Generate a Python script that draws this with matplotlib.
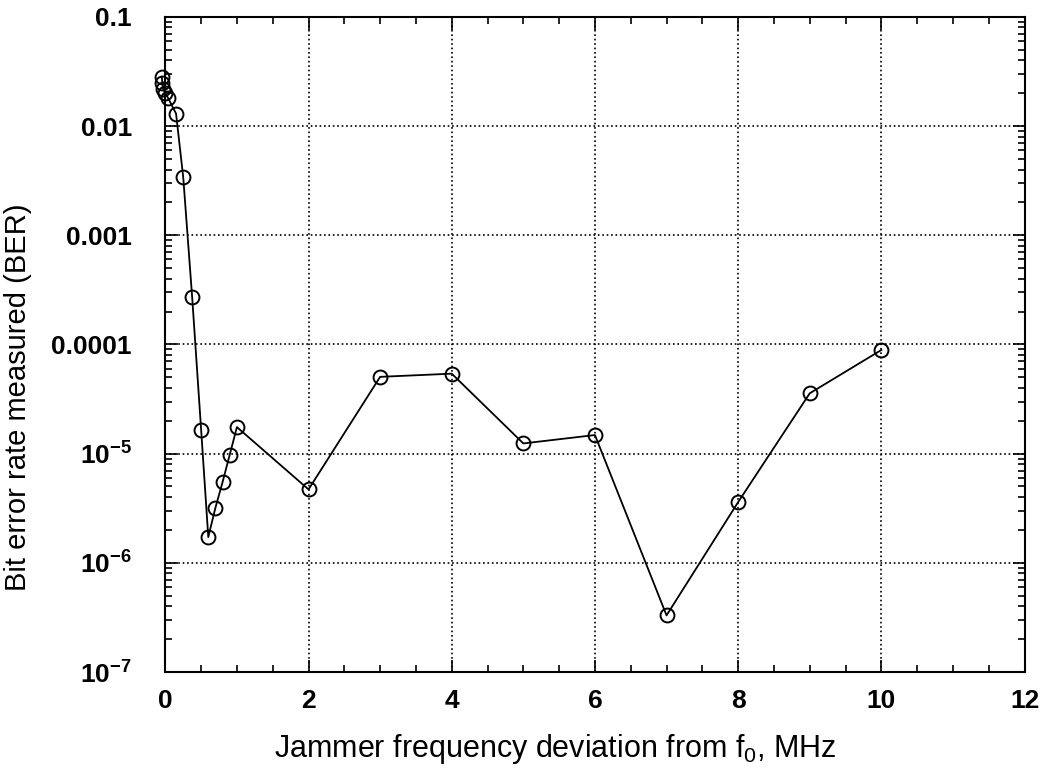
import matplotlib
matplotlib.use('Agg')
import matplotlib.pyplot as plt
import numpy as np
from matplotlib.ticker import FixedLocator, MultipleLocator, LogLocator, NullFormatter

plt.rcParams['font.family'] = ['Liberation Sans', 'DejaVu Sans']
plt.rcParams['mathtext.fontset'] = 'custom'
plt.rcParams['mathtext.rm'] = 'Liberation Sans'
plt.rcParams['mathtext.bf'] = 'Liberation Sans:bold'

# jammer frequency deviation (MHz) and measured BER
freq_dev = [-0.05, -0.04, -0.03, 0.0, 0.04, 0.15, 0.25, 0.375, 0.5, 0.6, 0.7, 0.8, 0.9, 1.0,
            2, 3, 4, 5, 6, 7, 8, 9, 10]
ber = [0.028, 0.0248, 0.022, 0.020, 0.018, 0.013, 0.0034, 0.00027, 1.66e-5, 1.72e-6,
       3.2e-6, 5.5e-6, 9.8e-6, 1.75e-5,
       4.7e-6, 5.05e-5, 5.4e-5, 1.24e-5, 1.48e-5, 3.3e-7, 3.6e-6, 3.57e-5, 8.9e-5]

y_ticks = [1e-7, 1e-6, 1e-5, 1e-4, 1e-3, 1e-2, 1e-1]
y_labels = [r'$\mathbf{10^{-7}}$', r'$\mathbf{10^{-6}}$', r'$\mathbf{10^{-5}}$',
            '0.0001', '0.001', '0.01', '0.1']
x_ticks = [0, 2, 4, 6, 8, 10, 12]


def plotBER():
    fig = plt.figure(figsize=(10.53, 7.68), dpi=100)
    ax = fig.add_axes([0.157, 0.125, 0.816, 0.853])

    ax.plot(freq_dev, ber, 'k-', linewidth=1.3, marker='o', markersize=10,
            markerfacecolor='none', markeredgecolor='k', markeredgewidth=1.4, clip_on=False)

    ax.set_yscale('log')
    ax.set_xlim(0, 12)
    ax.set_ylim(1e-7, 0.1)

    ax.xaxis.set_major_locator(FixedLocator(x_ticks))
    ax.xaxis.set_minor_locator(MultipleLocator(0.5))
    ax.set_xticklabels([str(t) for t in x_ticks], fontsize=19, fontweight='bold')

    ax.yaxis.set_major_locator(FixedLocator(y_ticks))
    ax.yaxis.set_minor_locator(LogLocator(base=10, subs=np.arange(2, 10)))
    ax.yaxis.set_minor_formatter(NullFormatter())
    ax.set_yticklabels(y_labels, fontsize=19, fontweight='bold')

    ax.tick_params(which='both', direction='in', top=True, right=True, width=1.2)
    ax.tick_params(which='major', length=9)
    ax.tick_params(axis='x', which='major', pad=12)
    ax.tick_params(axis='y', which='major', pad=24)
    ax.tick_params(which='minor', length=5)
    for s in ax.spines.values():
        s.set_linewidth(1.5)

    ax.grid(True, which='major', linestyle=':', color='k', linewidth=1.2)

    ax.set_xlabel(r'Jammer frequency deviation from $\mathregular{f_0}$, MHz', fontsize=22)
    ax.set_ylabel('Bit error rate measured (BER)', fontsize=21)
    ax.xaxis.set_label_coords(0.4535, -0.092)
    ax.yaxis.set_label_coords(-0.155, 0.42)

    fig.savefig('out.png', dpi=100)


if __name__ == '__main__':
    plotBER()
